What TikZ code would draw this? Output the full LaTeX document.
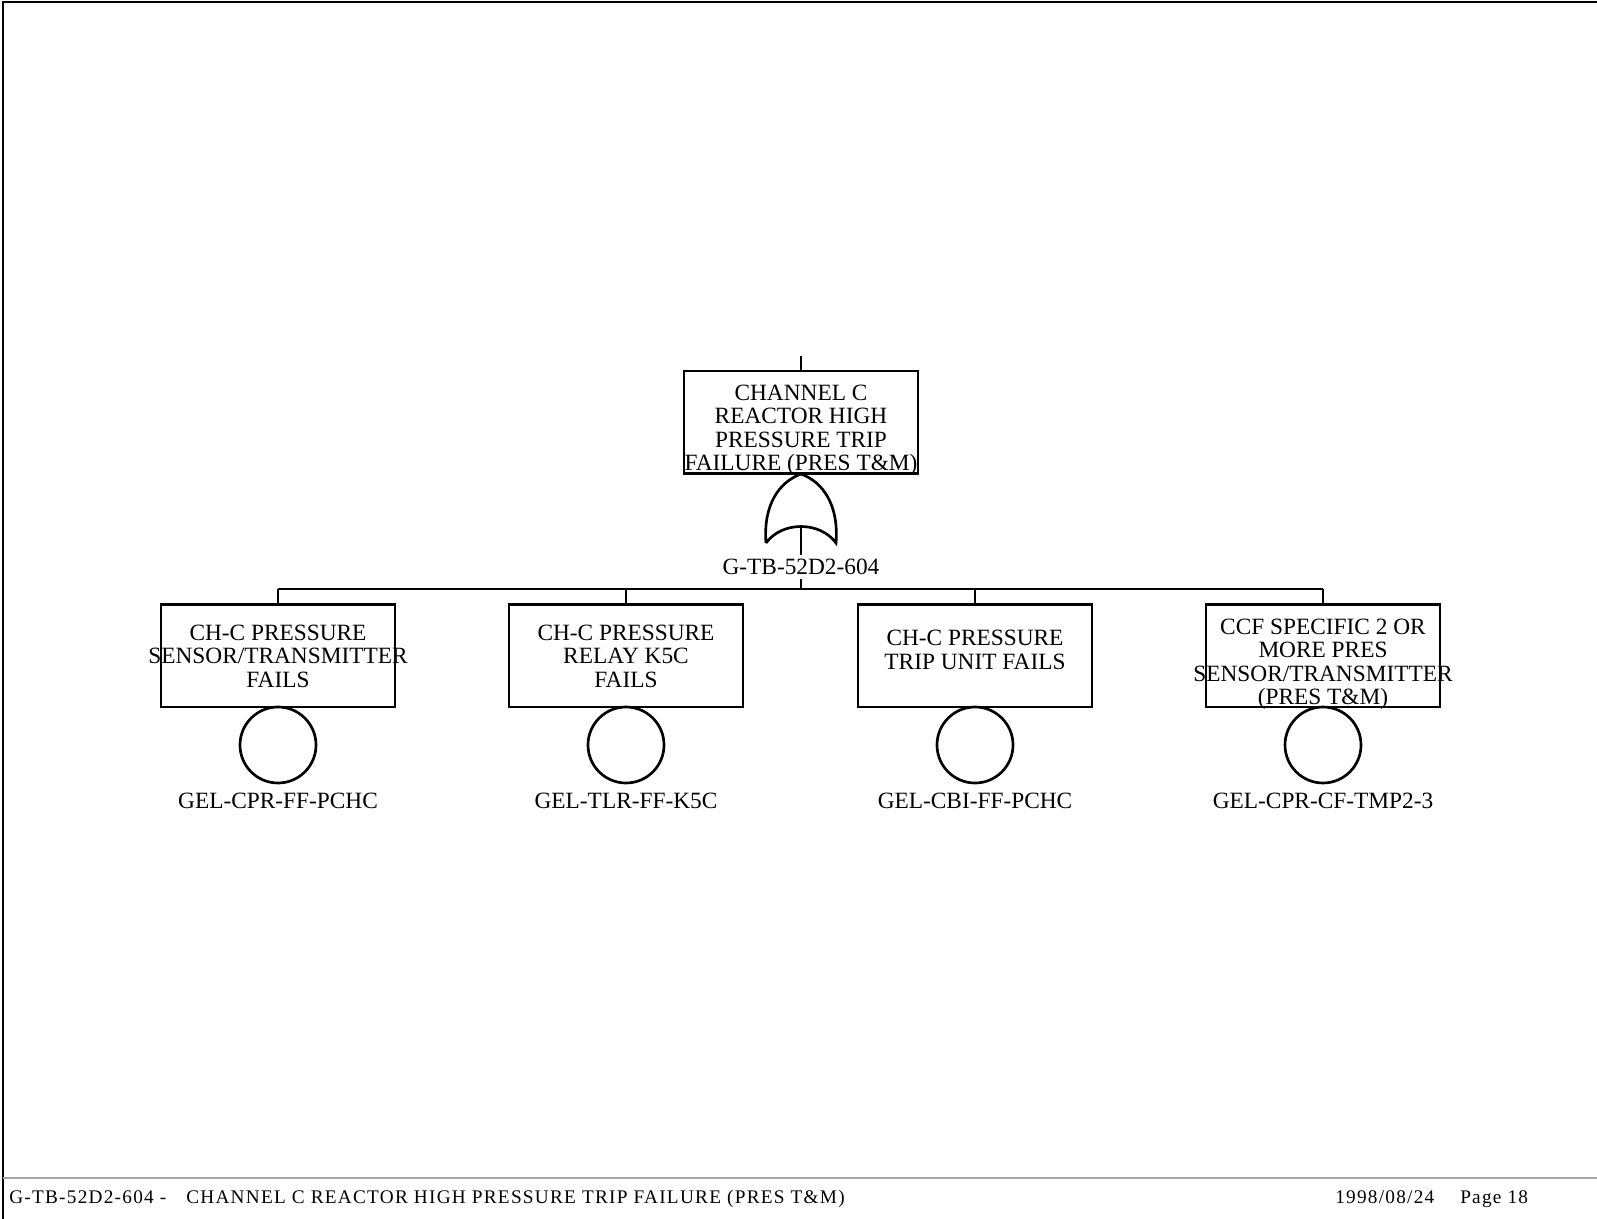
\documentclass[tikz,border=0pt]{standalone}
\usepackage{fontspec}
\setmainfont{Liberation Serif}
\newfontfamily\footfont[LetterSpace=6.5]{Liberation Serif}
\usepackage{tikz}

\begin{document}
\begin{tikzpicture}[x=0.75pt,y=-0.75pt,
    evt/.style={draw, line width=2pt, minimum width=175.5pt, minimum height=77pt, inner sep=0pt},
    txt/.style={inner sep=0pt, font=\fontsize{17.5pt}{17.6pt}\selectfont},
    basic/.style={draw, circle, line width=2pt, minimum size=57pt, inner sep=0pt},
    lbl/.style={inner xsep=0pt, inner ysep=3pt, font=\fontsize{17.5pt}{17.6pt}\selectfont},
    foot/.style={anchor=base west, inner sep=0pt, font=\footfont\fontsize{14.45pt}{16pt}\selectfont}]
    \useasboundingbox (0,0) rectangle (1597,1219);

    % frame
    \draw[line width=1.2pt] (3,1219) -- (3,2) -- (1597,2);
    \draw[gray!70, line width=1pt] (3,1178) -- (1597,1178);

    % top event
    \coordinate (topin) at (801,356);
    \node[evt] (top) at (801,422.5) {};
    \node[txt] (topt) at (801,431) {\begin{tabular}{@{}c@{}}CHANNEL C\\ REACTOR HIGH\\ PRESSURE TRIP\\ FAILURE (PRES T\&M)\end{tabular}};
    \draw[line width=2pt] (topin) -- (top.north);

    % or gate
    \draw[line width=2pt] (766,543) .. controls (763,505) and (779,482) .. (801,474)
        .. controls (823,482) and (839,505) .. (836,543)
        .. controls (820,521) and (782,521) .. (766,543);
    \coordinate (gin) at (801,526);
    \node[lbl] (glbl) at (801,567) {G-TB-52D2-604};
    \draw[line width=2pt] (gin) -- (glbl.north);

    % bus
    \coordinate (bus1) at (278,589);
    \coordinate (bus4) at (1323,589);
    \draw[line width=2pt] (bus1) -- (bus4);
    \draw[line width=2pt] (glbl.south) -- (glbl.south |- bus1);

    % events
    \node[evt] (e1) at (278,655.5) {};
    \node[txt] (e1t) at (278,659) {\begin{tabular}{@{}c@{}}CH-C PRESSURE\\ SENSOR/TRANSMITTER\\ FAILS\end{tabular}};
    \node[evt] (e2) at (626,655.5) {};
    \node[txt] (e2t) at (626,659) {\begin{tabular}{@{}c@{}}CH-C PRESSURE\\ RELAY K5C\\ FAILS\end{tabular}};
    \node[evt] (e3) at (975,655.5) {};
    \node[txt] (e3t) at (975,653) {\begin{tabular}{@{}c@{}}CH-C PRESSURE\\ TRIP UNIT FAILS\end{tabular}};
    \node[evt] (e4) at (1323,655.5) {};
    \node[txt] (e4t) at (1323,665) {\begin{tabular}{@{}c@{}}CCF SPECIFIC 2 OR\\ MORE PRES\\ SENSOR/TRANSMITTER\\ (PRES T\&M)\end{tabular}};

    \foreach \e in {e1,e2,e3,e4}
        \draw[line width=2pt] (\e.north |- bus1) -- (\e.north);

    % basic events
    \node[basic] (c1) at (278,745) {};
    \node[basic] (c2) at (626,745) {};
    \node[basic] (c3) at (975,745) {};
    \node[basic] (c4) at (1323,745) {};
    \node[lbl] (c1l) at (278,801) {GEL-CPR-FF-PCHC};
    \node[lbl] (c2l) at (626,801) {GEL-TLR-FF-K5C};
    \node[lbl] (c3l) at (975,801) {GEL-CBI-FF-PCHC};
    \node[lbl] (c4l) at (1323,801) {GEL-CPR-CF-TMP2-3};

    % footer
    \node[foot] (ftid) at (9,1203) {G-TB-52D2-604 -};
    \node[foot] (ftdesc) at (186,1203) {CHANNEL C REACTOR HIGH PRESSURE TRIP FAILURE (PRES T\&M)};
    \node[foot] (ftdate) at (1335,1203) {1998/08/24};
    \node[foot] (ftpage) at (1460,1203) {Page 18};
\end{tikzpicture}
\end{document}
